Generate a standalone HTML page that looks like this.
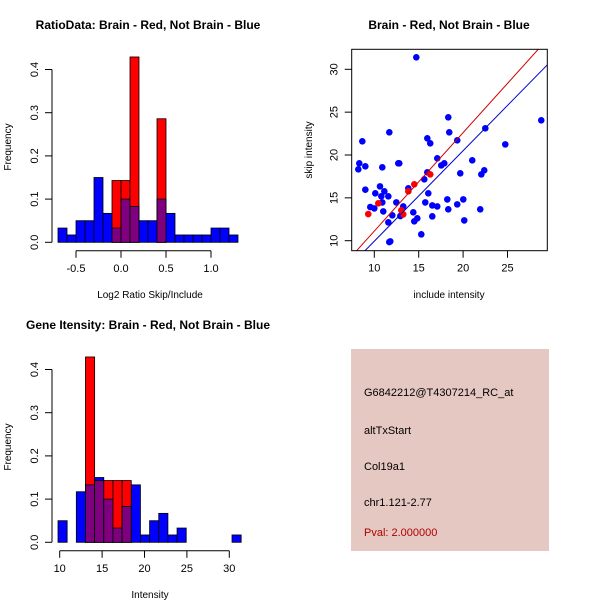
<!DOCTYPE html>
<html><head><meta charset="utf-8"><style>
html,body{margin:0;padding:0;background:#fff;}
svg{display:block;font-family:"Liberation Sans",sans-serif;}
</style></head><body>
<svg id="c" width="600" height="600" viewBox="0 0 600 600">
<text x="148" y="29" text-anchor="middle" font-weight="bold" font-size="12">RatioData: Brain - Red, Not Brain - Blue</text>
<text x="449" y="29" text-anchor="middle" font-weight="bold" font-size="12">Brain - Red, Not Brain - Blue</text>
<text x="148" y="329" text-anchor="middle" font-weight="bold" font-size="12">Gene Itensity: Brain - Red, Not Brain - Blue</text>
<text x="150" y="298" text-anchor="middle" font-size="10">Log2 Ratio Skip/Include</text>
<text x="11" y="147" text-anchor="middle" font-size="10" transform="rotate(-90 11 147)">Frequency</text>
<text x="150" y="598" text-anchor="middle" font-size="10">Intensity</text>
<text x="11" y="447" text-anchor="middle" font-size="10" transform="rotate(-90 11 447)">Frequency</text>
<text x="449" y="298" text-anchor="middle" font-size="10">include intensity</text>
<text x="312" y="150" text-anchor="middle" font-size="10" transform="rotate(-90 312 150)">skip intensity</text>
<g>
<rect x="351" y="349" width="198" height="202" fill="#e6c8c2"/>
<text x="364" y="396" font-size="11">G6842212@T4307214_RC_at</text>
<text x="364" y="434" font-size="11">altTxStart</text>
<text x="364" y="470" font-size="11">Col19a1</text>
<text x="364" y="506" font-size="11">chr1.121-2.77</text>
<text x="364" y="536" font-size="11" fill="#b00000">Pval: 2.000000</text>
</g>
</svg>
<script>
// Ratio histogram data
const ratioBinStart = -0.7, ratioBinWidth = 0.1;
const ratioBlue = [0.033,0.017,0.05,0.05,0.15,0.067,0.033,0.1,0.083,0.05,0.05,0.1,0.067,0.017,0.017,0.017,0.017,0.033,0.033,0.017];
const ratioRed = [0,0,0,0,0,0,0.143,0.143,0.429,0,0,0.286,0,0,0,0,0,0,0,0];
const ratioXTicks = [-0.5,0,0.5,1.0];
const ratioXTickLabels = ["-0.5","0.0","0.5","1.0"];
const freqTicks = [0,0.1,0.2,0.3,0.4];
const freqTickLabels = ["0.0","0.1","0.2","0.3","0.4"];
// Intensity histogram data
const intBinStart = 9.8, intBinWidth = 1.08;
const intBlue = [0.05,0,0.117,0.133,0.15,0.1,0.033,0.083,0.133,0.017,0.05,0.067,0.017,0.033,0,0,0,0,0,0.017];
const intRed = [0,0,0,0.429,0.143,0.143,0.143,0.143,0,0,0,0,0,0,0,0,0,0,0,0];
const intXTicks = [10,15,20,25,30];
// Scatter data
const blueX = [14.73,8.2,8.31,8.65,8.99,8.99,9.55,10.0,10.11,10.64,10.79,10.9,10.9,11.01,11.13,11.58,11.69,11.58,11.69,11.8,12.03,12.48,12.7,12.81,12.93,13.26,13.83,14.39,14.5,14.84,15.29,15.63,15.74,15.97,16.08,16.3,16.53,16.53,17.09,17.09,17.54,17.88,18.22,18.33,18.44,18.33,19.34,19.34,19.68,20.02,20.13,21.03,21.93,22.05,22.38,22.5,24.75,28.8,15.97];
const blueY = [31.4,18.33,19.03,21.6,18.68,15.95,13.93,13.77,15.53,16.34,15.18,14.47,18.56,13.42,15.76,15.18,22.65,12.14,9.84,9.92,12.96,14.47,19.03,19.03,12.88,14.0,16.11,13.31,12.26,12.61,10.74,17.16,14.47,21.95,15.53,21.36,14.12,12.84,19.61,14.0,18.79,19.03,14.82,24.4,22.65,13.66,21.71,14.24,17.86,14.82,12.37,19.38,13.66,17.74,18.21,23.11,21.24,24.05,17.98];
const redX = [9.32,10.45,13.04,13.26,13.83,14.5,16.3];
const redY = [13.11,14.36,13.54,13.07,15.76,16.58,17.74];
const redFit = [-0.37,1.149];   // intercept, slope
const blueFit = [-0.62,1.056];
const scXTicks = [10,15,20,25];
const scYTicks = [10,15,20,25,30];

const NS="http://www.w3.org/2000/svg";
const svg=document.getElementById('c');
function mk(tag,attrs,parent){const e=document.createElementNS(NS,tag);for(const k in attrs)e.setAttribute(k,attrs[k]);(parent||svg).appendChild(e);return e;}

function hist(opts){
  const g=mk('g',{});
  
  
  const sx=v=>opts.x0px+(v-opts.x0)*opts.kx;
  const sy=v=>opts.y0px-v*opts.ky;
  for(let i=0;i<opts.blue.length;i++){
    const a=opts.binStart+i*opts.binWidth, b=a+opts.binWidth;
    const x=sx(a), w=sx(b)-sx(a);
    const bl=opts.blue[i], rd=opts.red[i];
    if(bl>0){const r=mk('rect',{x:x,y:sy(bl),width:w,height:sy(0)-sy(bl),fill:'#0000ff',stroke:'#000','stroke-width':0.8},g);
      
      }
    if(rd>0){const r=mk('rect',{x:x,y:sy(rd),width:w,height:sy(0)-sy(rd),fill:'#ff0000',stroke:'#000','stroke-width':0.8},g);
      
      }
    const m=Math.min(bl,rd);
    if(m>0){const r=mk('rect',{x:x,y:sy(m),width:w,height:sy(0)-sy(m),fill:'#7f007f',stroke:'#000','stroke-width':0.8},g);
      
      }
  }
  // y axis
  const ya=mk('g',{},g);
  
  
  mk('line',{x1:52,x2:52,y1:sy(0),y2:sy(0.4),stroke:'#000'},ya);
  freqTicks.forEach((t,i)=>{
    mk('line',{x1:52,x2:45,y1:sy(t),y2:sy(t),stroke:'#000'},ya);
    const tx=mk('text',{x:38,y:sy(t),'font-size':11,'text-anchor':'middle',transform:`rotate(-90 38 ${sy(t)})`},ya);
    tx.textContent=freqTickLabels[i];
    
    
  });
  // x axis
  const xa=mk('g',{},g);
  
  
  const ay=opts.y0px+8.5;
  mk('line',{x1:sx(opts.ticks[0]),x2:sx(opts.ticks[opts.ticks.length-1]),y1:ay,y2:ay,stroke:'#000'},xa);
  opts.ticks.forEach((t,i)=>{
    mk('line',{x1:sx(t),x2:sx(t),y1:ay,y2:ay+7,stroke:'#000'},xa);
    const tx=mk('text',{x:sx(t),y:ay+21,'font-size':11,'text-anchor':'middle'},xa);
    tx.textContent=opts.labels[i];
    
    
  });
}
hist({name:'ratio-histogram',binStart:ratioBinStart,binWidth:ratioBinWidth,blue:ratioBlue,red:ratioRed,
  x0:-0.5,x0px:76,kx:90,y0px:242.3,ky:432,ticks:ratioXTicks,labels:ratioXTickLabels});
hist({name:'intensity-histogram',binStart:intBinStart,binWidth:intBinWidth,blue:intBlue,red:intRed,
  x0:10,x0px:59.7,kx:8.48,y0px:542.3,ky:432,ticks:intXTicks,labels:intXTicks.map(String)});

// scatter
(function(){
  const L=351.7,T=49.3,R=547.3,B=250.7;
  const sx=v=>374.3+(v-10)*8.88;
  const sy=v=>240.7-(v-10)*8.57;
  const g=mk('g',{});
  
  
  mk('defs',{},g).innerHTML='<clipPath id="clp"><rect x="'+L+'" y="'+T+'" width="'+(R-L)+'" height="'+(B-T)+'"/></clipPath>';
  const xa=mk('g',{},g);
  
  
  scXTicks.forEach(t=>{
    mk('line',{x1:sx(t),x2:sx(t),y1:B,y2:B+7,stroke:'#000'},xa);
    const tx=mk('text',{x:sx(t),y:B+21,'font-size':11,'text-anchor':'middle'},xa);
    tx.textContent=t;
    
    
  });
  const ya=mk('g',{},g);
  
  
  scYTicks.forEach(t=>{
    mk('line',{x1:L,x2:L-7,y1:sy(t),y2:sy(t),stroke:'#000'},ya);
    const tx=mk('text',{x:L-14,y:sy(t),'font-size':11,'text-anchor':'middle',transform:`rotate(-90 ${L-14} ${sy(t)})`},ya);
    tx.textContent=t;
    
    
  });
  const pg=mk('g',{'clip-path':'url(#clp)'},g);
  blueX.forEach((x,i)=>{const c=mk('circle',{cx:sx(x),cy:sy(blueY[i]),r:3.3,fill:'#0000ff'},pg);
    
    });
  redX.forEach((x,i)=>{const c=mk('circle',{cx:sx(x),cy:sy(redY[i]),r:3.3,fill:'#ff0000'},pg);
    
    });
  [[redFit,'#cc0000','red-fit-line'],[blueFit,'#0000cc','blue-fit-line']].forEach(([f,col,nm])=>{
    const x1=5,x2=35;
    const l=mk('line',{x1:sx(x1),y1:sy(f[0]+f[1]*x1),x2:sx(x2),y2:sy(f[0]+f[1]*x2),stroke:col,'stroke-width':1},pg);
    
    
  });
  const fr=mk('rect',{x:L,y:T,width:R-L,height:B-T,fill:'none',stroke:'#000'},g);
  
  
})();
</script>
</body></html>
